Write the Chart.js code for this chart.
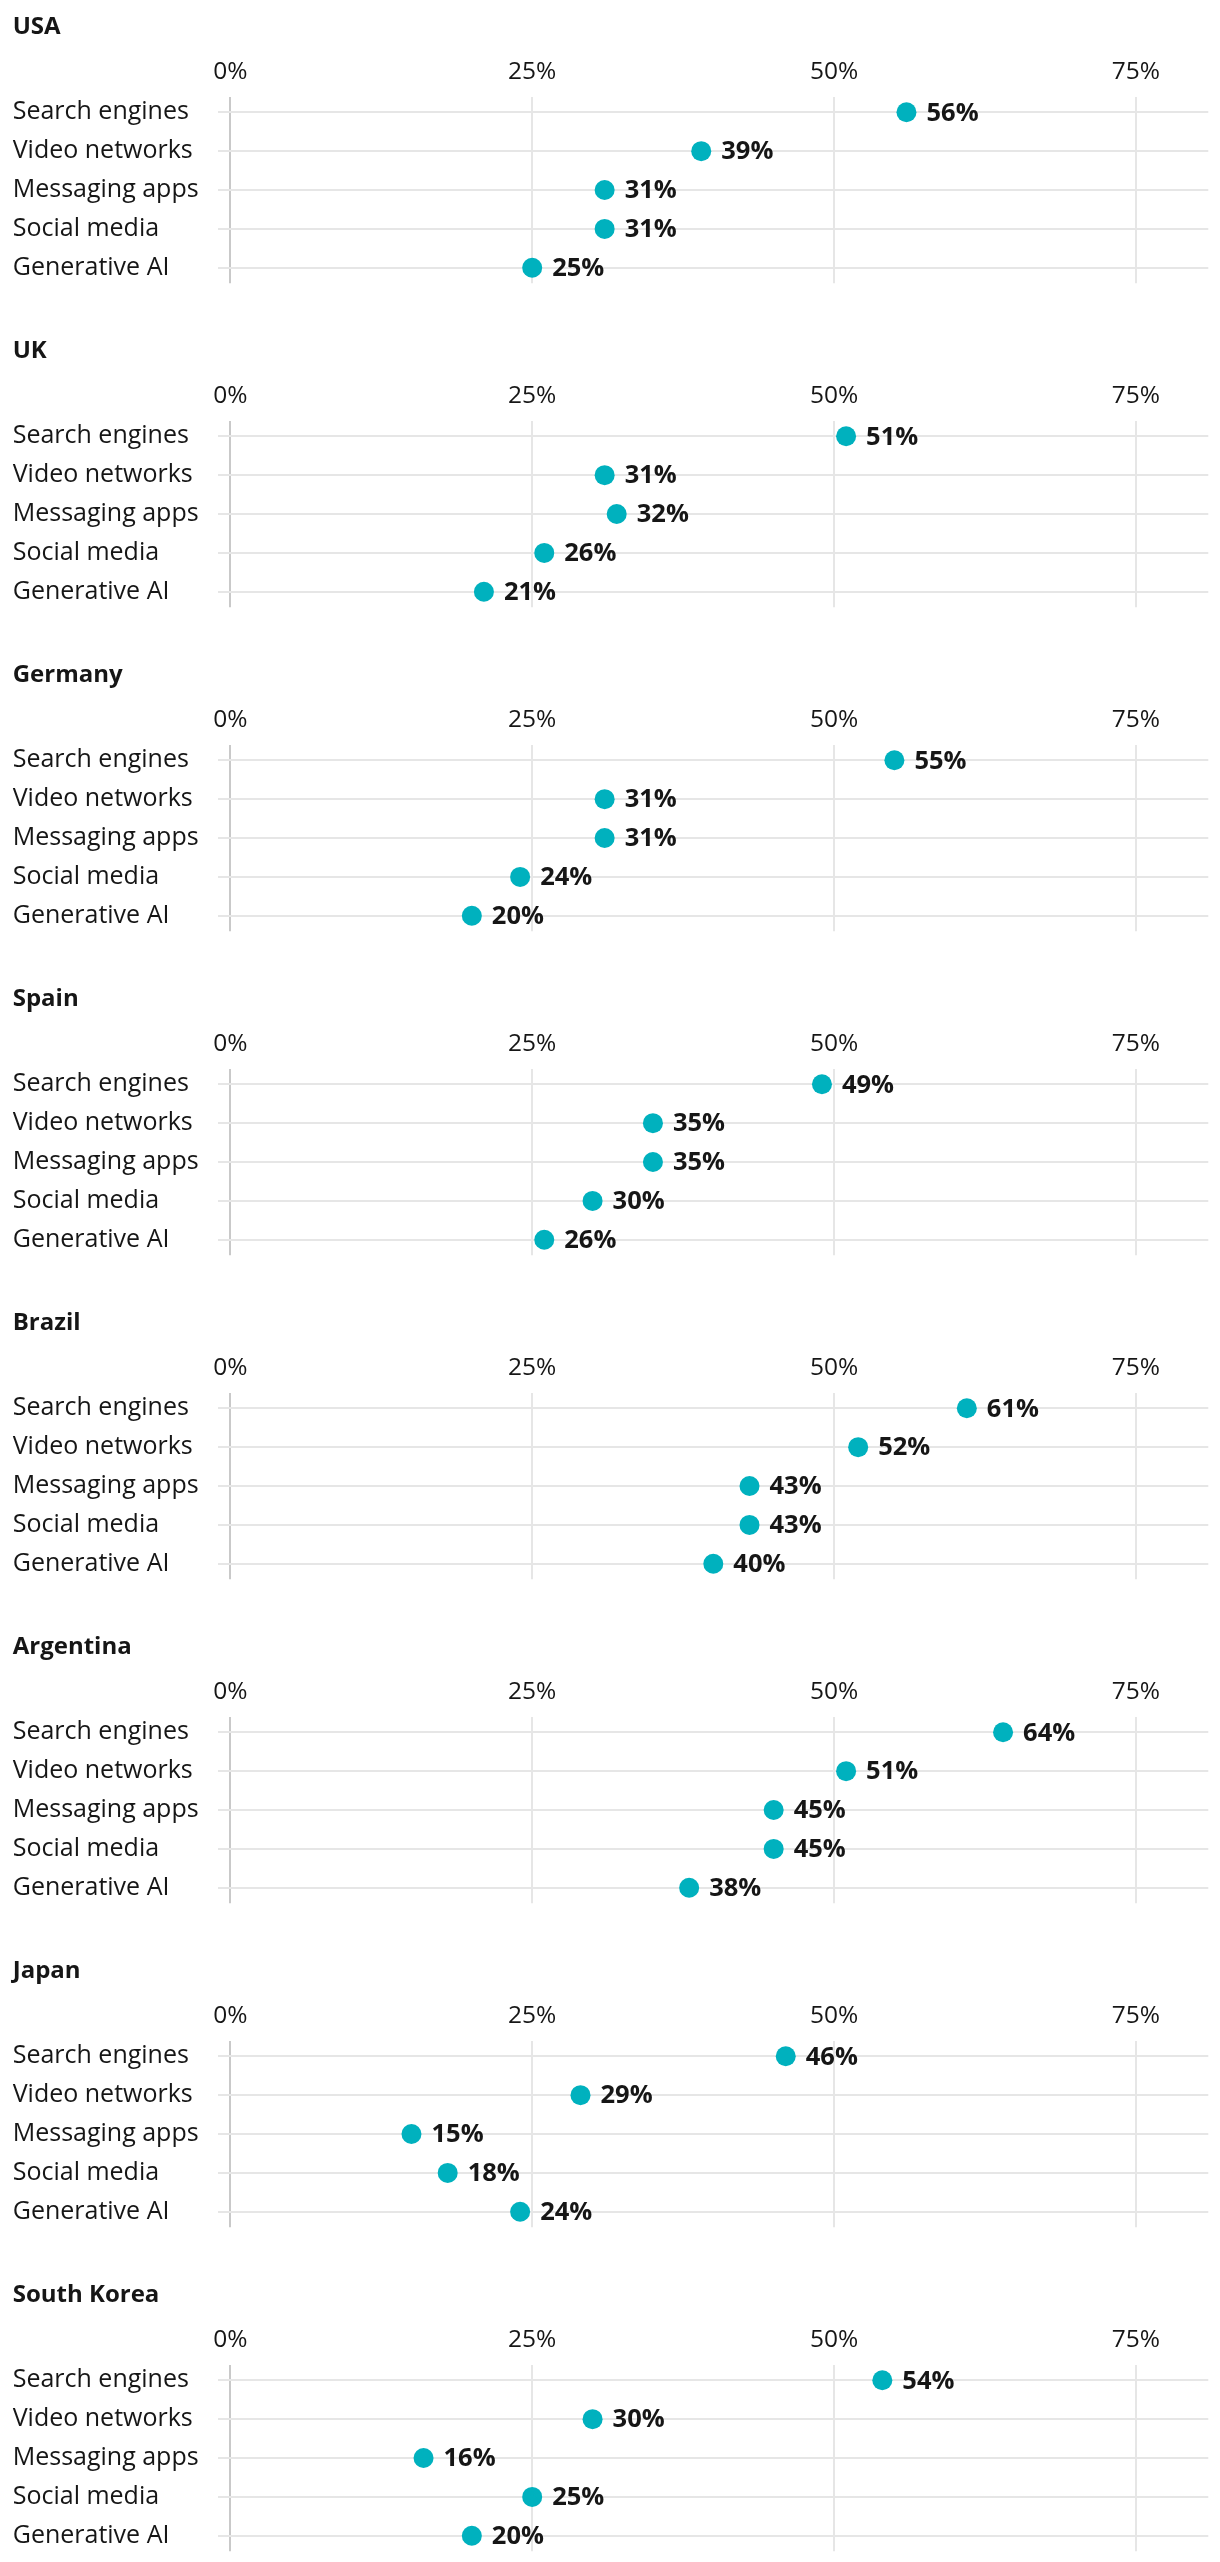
<!DOCTYPE html>
<html>
<head>
<meta charset="utf-8">
<script src="https://cdn.jsdelivr.net/npm/chart.js@4"></script>
<style>
  html, body { margin: 0; padding: 0; background: #fff; overflow: hidden; }
  .panel { position: absolute; left: 0; width: 1220px; height: 324px; }
</style>
</head>
<body>
<div id="wrap"></div>
<script>
// categories and values per country (share in %)
var categories = ['Search engines', 'Video networks', 'Messaging apps', 'Social media', 'Generative AI'];
var countries = ['USA', 'UK', 'Germany', 'Spain', 'Brazil', 'Argentina', 'Japan', 'South Korea'];
var usa = [56, 39, 31, 31, 25];
var uk = [51, 31, 32, 26, 21];
var germany = [55, 31, 31, 24, 20];
var spain = [49, 35, 35, 30, 26];
var brazil = [61, 52, 43, 43, 40];
var argentina = [64, 51, 45, 45, 38];
var japan = [46, 29, 15, 18, 24];
var southKorea = [54, 30, 16, 25, 20];
var xTicks = [0, 25, 50, 75];

var series = [usa, uk, germany, spain, brazil, argentina, japan, southKorea];

var FONT = '"Open Sans", sans-serif';
var TEXT = '#161616';
var DOT = '#00b1be';

Chart.defaults.font.family = FONT;
Chart.defaults.color = TEXT;

// bold value label right of each dot
var valueLabels = {
    id: 'valueLabels',
    afterDatasetsDraw: function (chart) {
        var ctx = chart.ctx;
        var meta = chart.getDatasetMeta(0);
        var data = chart.data.datasets[0].data;
        ctx.save();
        ctx.font = 'bold 25.5px ' + FONT;
        ctx.fillStyle = TEXT;
        ctx.textBaseline = 'middle';
        ctx.textAlign = 'left';
        meta.data.forEach(function (pt, i) {
            ctx.fillText(data[i].x + '%', pt.x + 20, pt.y + 1);
        });
        ctx.restore();
    }
};

var wrap = document.getElementById('wrap');

countries.forEach(function (country, n) {
    var div = document.createElement('div');
    div.className = 'panel';
    div.style.top = (n * 324) + 'px';
    var canvas = document.createElement('canvas');
    div.appendChild(canvas);
    wrap.appendChild(div);

    var values = series[n];

    new Chart(canvas.getContext('2d'), {
        type: 'scatter',
        data: {
            datasets: [{
                data: values.map(function (v, i) { return { x: v, y: i }; }),
                backgroundColor: DOT,
                borderWidth: 0,
                pointRadius: 10,
                pointHoverRadius: 10
            }]
        },
        plugins: [valueLabels],
        options: {
            responsive: true,
            maintainAspectRatio: false,
            animation: false,
            layout: {
                padding: { left: 12.7, right: 11.7, top: 0, bottom: 40.7 }
            },
            plugins: {
                legend: { display: false },
                tooltip: { enabled: false },
                title: {
                    display: true,
                    text: country,
                    align: 'start',
                    color: TEXT,
                    font: { size: 24, weight: 'bold', lineHeight: 1.2 },
                    padding: { top: 12.6, bottom: 15.3 }
                }
            },
            scales: {
                x: {
                    type: 'linear',
                    position: 'top',
                    min: -1,
                    max: 81,
                    afterBuildTicks: function (scale) {
                        scale.ticks = xTicks.map(function (v) { return { value: v }; });
                    },
                    afterFit: function (scale) { scale.height = 40; },
                    ticks: {
                        callback: function (v) { return v + '%'; },
                        font: { size: 24.5 },
                        color: TEXT,
                        padding: 10,
                        maxRotation: 0,
                        autoSkip: false
                    },
                    grid: {
                        color: function (c) { return c.tick && c.tick.value === 0 ? '#c9c9c9' : '#e6e6e6'; },
                        lineWidth: 2,
                        drawTicks: false
                    },
                    border: { display: false }
                },
                y: {
                    type: 'linear',
                    reverse: true,
                    min: -0.4,
                    max: 4.4,
                    afterBuildTicks: function (scale) {
                        scale.ticks = categories.map(function (c, i) { return { value: i }; });
                    },
                    afterFit: function (scale) { scale.width = 218.3 - 12.7; },
                    ticks: {
                        callback: function (v) { return categories[v]; },
                        crossAlign: 'far',
                        font: { size: 25 },
                        color: TEXT,
                        autoSkip: false
                    },
                    grid: {
                        color: '#e6e6e6',
                        lineWidth: 2,
                        drawTicks: false
                    },
                    border: { display: false }
                }
            }
        }
    });
});
</script>
</body>
</html>
